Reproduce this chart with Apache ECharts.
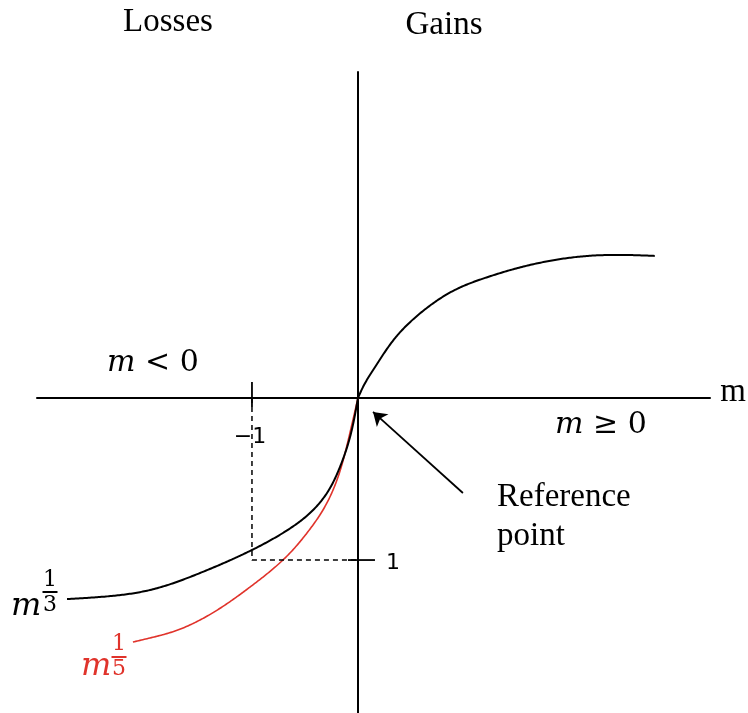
<!DOCTYPE html>
<html><head><meta charset="utf-8">
<script src="https://cdn.jsdelivr.net/npm/echarts@6/dist/echarts.min.js"></script>
<style>html,body{margin:0;padding:0;background:#fff}#c{width:748px;height:713px}</style>
</head><body><div id="c"></div>
<script>
// Gains curve (m >= 0)
const gainX = [0, 0.057, 0.16, 0.35, 0.60, 0.915, 1.226, 1.547, 1.858, 2.17, 2.49, 2.80];
const gainY = [0, 0.08, 0.19, 0.37, 0.53, 0.667, 0.747, 0.809, 0.852, 0.877, 0.883, 0.877];
// Losses curve m^(1/3) (black)
const loss3X = [0, -0.075, -0.17, -0.292, -0.453, -0.708, -1.0, -1.49, -1.962, -2.434, -2.745];
const loss3Y = [0, -0.241, -0.426, -0.586, -0.71, -0.833, -0.938, -1.08, -1.185, -1.228, -1.241];
// Losses curve m^(1/5) (red)
const loss5X = [0, -0.085, -0.198, -0.33, -0.481, -0.642, -1.019, -1.255, -1.49, -1.726, -1.962, -2.123];
const loss5Y = [0, -0.241, -0.506, -0.691, -0.833, -0.957, -1.167, -1.278, -1.37, -1.438, -1.481, -1.506];
// Dashed guide through (-1, 1)
const guideX = [-1, -1, 0];
const guideY = [0, -1, -1];
// Tick marks
const ticksOnX = [-1];
const ticksOnY = [-1];
// Reference point arrow
const arrowFrom = [0.99, -0.586];
const arrowTo = [0.142, -0.086];
// Axis extents
const xMin = -3.028, xMax = 3.321, yMin = -1.944, yMax = 2.012;

const zip = (a, b) => a.map((v, i) => [v, b[i]]);
const chart = echarts.init(document.getElementById('c'));
const serif = '"Liberation Serif", "Times New Roman", serif';
const mathF = '"DejaVu Serif", serif';
const red = '#e0332b';

function txt(text, x, y, size, opts) {
  opts = opts || {};
  return {type:'text', x:x, y:y, silent:true, style:{text:text, font:(opts.italic?'italic ':'') + size + 'px ' + (opts.family||serif), fill:opts.color||'#000', align:opts.align||'center', verticalAlign:'middle'}};
}
function frac(top, bot, cx, cyTop, barY, cyBot, color) {
  return [
    txt(top, cx, cyTop, 22, {family:mathF, color:color}),
    {type:'rect', silent:true, shape:{x:cx-7.5, y:barY-1, width:15, height:2}, style:{fill:color}},
    txt(bot, cx, cyBot, 22, {family:mathF, color:color})
  ];
}
// natural cubic spline coefficients of v over parameter t
function coeffs(t, v) {
  const n = t.length, h = [], al = [], l = [1], mu = [0], z = [0], c = new Array(n).fill(0), b = [], d = [];
  for (let i = 0; i < n-1; i++) h[i] = t[i+1] - t[i];
  for (let i = 1; i < n-1; i++) al[i] = 3/h[i]*(v[i+1]-v[i]) - 3/h[i-1]*(v[i]-v[i-1]);
  for (let i = 1; i < n-1; i++) {
    l[i] = 2*(t[i+1]-t[i-1]) - h[i-1]*mu[i-1];
    mu[i] = h[i]/l[i];
    z[i] = (al[i] - h[i-1]*z[i-1]) / l[i];
  }
  for (let j = n-2; j >= 0; j--) {
    c[j] = j > 0 ? z[j] - mu[j]*c[j+1] : 0;
    b[j] = (v[j+1]-v[j])/h[j] - h[j]*(c[j+1] + 2*c[j])/3;
    d[j] = (c[j+1]-c[j])/(3*h[j]);
  }
  return (j, s) => v[j] + b[j]*s + c[j]*s*s + d[j]*s*s*s;
}
// parametric (chord length) spline through pixel points
function spline(pts) {
  const t = [0];
  for (let i = 1; i < pts.length; i++) t.push(t[i-1] + Math.hypot(pts[i][0]-pts[i-1][0], pts[i][1]-pts[i-1][1]));
  const fx = coeffs(t, pts.map(p => p[0])), fy = coeffs(t, pts.map(p => p[1]));
  const out = [];
  for (let j = 0; j < pts.length-1; j++) {
    const h = t[j+1]-t[j], steps = Math.max(4, Math.ceil(h/1.5));
    for (let s = 0; s < steps; s++) { const u = h*s/steps; out.push([fx(j, u), fy(j, u)]); }
  }
  out.push(pts[pts.length-1]);
  return out;
}
function curveSeries(xs, ys, color, width) {
  return {type:'custom', data:zip(xs, ys), renderItem:(params, api) => {
    if (params.dataIndex !== 0) return null;
    const p = xs.map((x, i) => api.coord([x, ys[i]]));
    return {type:'polyline', shape:{points:spline(p)}, style:{fill:null, stroke:color, lineWidth:width, lineJoin:'round'}};
  }};
}

chart.setOption({
  animation:false,
  backgroundColor:'#fff',
  grid:{left:37, right:38, top:72, bottom:0},
  xAxis:{type:'value', min:xMin, max:xMax, axisLine:{onZero:true, lineStyle:{color:'#000', width:2}}, axisTick:{show:false}, axisLabel:{show:false}, splitLine:{show:false}},
  yAxis:{type:'value', min:yMin, max:yMax, axisLine:{onZero:true, lineStyle:{color:'#000', width:2}}, axisTick:{show:false}, axisLabel:{show:false}, splitLine:{show:false}},
  series:[
    curveSeries(gainX, gainY, '#000', 2),
    curveSeries(loss5X, loss5Y, red, 1.6),
    curveSeries(loss3X, loss3Y, '#000', 2),
    {type:'line', data:zip(guideX, guideY), showSymbol:false, lineStyle:{color:'#000', width:1.5, type:[5,4]},
      markLine:{silent:true, symbol:['none','arrow'], symbolSize:13, label:{show:false},
        lineStyle:{type:'solid', color:'#000', width:1.8},
        data:[[{coord:arrowFrom}, {coord:arrowTo}]]}},
    {type:'custom', data:ticksOnX.map(v=>[v,0]), renderItem:(p, api)=>{const c = api.coord([api.value(0), 0]);
      return {type:'line', shape:{x1:c[0], y1:c[1]-16, x2:c[0], y2:c[1]+9}, style:{stroke:'#000', lineWidth:1.8}};}},
    {type:'custom', data:ticksOnY.map(v=>[0,v]), renderItem:(p, api)=>{const c = api.coord([0, api.value(1)]);
      return {type:'line', shape:{x1:c[0]-10, y1:c[1], x2:c[0]+17, y2:c[1]}, style:{stroke:'#000', lineWidth:1.8}};}}
  ],
  graphic:[
    txt('Losses', 168, 22, 33),
    txt('Gains', 444, 25, 33),
    txt('m', 733, 392, 33),
    txt('Reference', 497, 497, 33, {align:'left'}),
    txt('point', 497, 536, 33, {align:'left'}),
    {type:'text', x:107, y:363, silent:true, style:{text:'{i|m} < 0', font:'30px ' + mathF, fill:'#000', align:'left', verticalAlign:'middle', rich:{i:{fontStyle:'italic', fontFamily:'DejaVu Serif', fontSize:30}}}},
    {type:'text', x:555, y:425, silent:true, style:{text:'{i|m} ≥ 0', font:'30px ' + mathF, fill:'#000', align:'left', verticalAlign:'middle', rich:{i:{fontStyle:'italic', fontFamily:'DejaVu Serif', fontSize:30}}}},
    txt('1', 393, 563, 22, {family:'"DejaVu Sans", sans-serif'}),
    txt('−1', 250, 437, 22, {family:'"DejaVu Sans", sans-serif'}),
    txt('m', 11, 607, 32, {family:mathF, italic:true, align:'left'}),
    ...frac('1', '3', 50, 580, 592, 605, '#000'),
    txt('m', 81, 667, 32, {family:mathF, italic:true, align:'left', color:red}),
    ...frac('1', '5', 119, 644, 657, 669, red)
  ]
});
</script></body></html>
